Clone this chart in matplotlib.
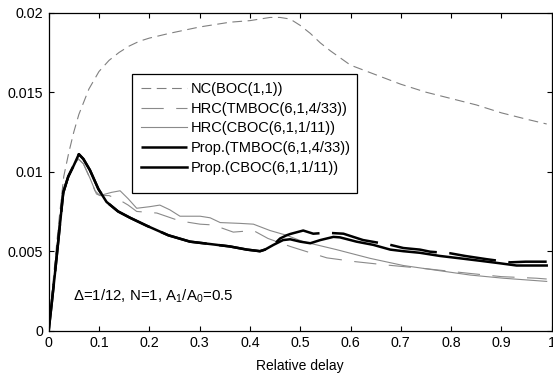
import matplotlib
matplotlib.use("Agg")
import matplotlib.pyplot as plt
from matplotlib.patches import Rectangle

plt.rcParams['font.family'] = ['Liberation Sans', 'DejaVu Sans']
plt.rcParams['mathtext.fontset'] = 'custom'
plt.rcParams['mathtext.rm'] = 'Liberation Sans'
plt.rcParams['mathtext.it'] = 'Liberation Sans:italic'
plt.rcParams['mathtext.bf'] = 'Liberation Sans:bold'
plt.rcParams['lines.scale_dashes'] = False

# ---- data ----
nc_x = [0, 0.01, 0.02, 0.03, 0.04, 0.05, 0.06, 0.08, 0.1, 0.12, 0.14, 0.16, 0.18, 0.2,
        0.24, 0.3, 0.36, 0.4, 0.44, 0.46, 0.48, 0.5, 0.52, 0.54, 0.56, 0.6, 0.65, 0.7,
        0.75, 0.8, 0.85, 0.9, 0.95, 0.99]
nc_y = [0, 0.0035, 0.0068, 0.0097, 0.0112, 0.0125, 0.0136, 0.0152, 0.0163, 0.0170, 0.0175,
        0.0179, 0.0182, 0.0184, 0.0187, 0.0191, 0.0194, 0.0195, 0.0197, 0.0197, 0.0196,
        0.0192, 0.0187, 0.0181, 0.0176, 0.0167, 0.0161, 0.0155, 0.0150, 0.0146, 0.0142,
        0.0137, 0.0133, 0.0130]

hrc_tm_x = [0, 0.0125, 0.0225, 0.029, 0.039, 0.05, 0.059, 0.069, 0.082, 0.092, 0.102, 0.12,
            0.142, 0.158, 0.175, 0.215, 0.261, 0.301, 0.327, 0.367, 0.407, 0.436, 0.48, 0.5,
            0.553, 0.61, 0.672, 0.75, 0.838, 0.9, 0.97, 0.99]
hrc_tm_y = [0, 0.0035, 0.0066, 0.0085, 0.0096, 0.0104, 0.0108, 0.0105, 0.0096, 0.0088, 0.0085,
            0.0085, 0.0082, 0.0079, 0.0075, 0.0074, 0.0069, 0.0067, 0.00665, 0.0062, 0.0063,
            0.0058, 0.0053, 0.0051, 0.00458, 0.00434, 0.00413, 0.0039, 0.0036, 0.0034, 0.0033,
            0.00325]

hrc_cb_x = [0, 0.0125, 0.0225, 0.029, 0.039, 0.05, 0.059, 0.069, 0.082, 0.095, 0.102, 0.125,
            0.142, 0.158, 0.175, 0.201, 0.221, 0.241, 0.261, 0.301, 0.321, 0.341, 0.38, 0.407,
            0.44, 0.473, 0.506, 0.572, 0.639, 0.705, 0.771, 0.838, 0.904, 0.99]
hrc_cb_y = [0, 0.0035, 0.0066, 0.0085, 0.0096, 0.0104, 0.0108, 0.0105, 0.0096, 0.0086, 0.0085,
            0.0087, 0.0088, 0.0083, 0.0077, 0.0078, 0.0079, 0.0076, 0.0072, 0.0072, 0.0071,
            0.0068, 0.00675, 0.0067, 0.0063, 0.0060, 0.0056, 0.0051, 0.00455, 0.0041, 0.0038,
            0.0035, 0.0033, 0.0031]

prop_tm_x = [0, 0.006, 0.0125, 0.0225, 0.029, 0.039, 0.05, 0.06, 0.069, 0.082, 0.099, 0.115,
             0.138, 0.162, 0.195, 0.238, 0.281, 0.321, 0.36, 0.394, 0.42, 0.43, 0.447, 0.46,
             0.473, 0.48, 0.506, 0.526, 0.553, 0.586, 0.625, 0.679, 0.705, 0.738, 0.758, 0.798,
             0.828, 0.87, 0.917, 0.948, 0.99]
prop_tm_y = [0, 0.0017, 0.0036, 0.0067, 0.0087, 0.0097, 0.0104, 0.0111, 0.0108, 0.0101, 0.0089,
             0.0081, 0.0075, 0.0071, 0.0066, 0.0060, 0.0056, 0.00545, 0.0053, 0.0051, 0.0050,
             0.0051, 0.0054, 0.0058, 0.0060, 0.00608, 0.0063, 0.0061, 0.00616, 0.0061, 0.0057,
             0.0054, 0.0052, 0.0051, 0.00497, 0.00487, 0.0047, 0.0045, 0.0043, 0.00434, 0.00434]

prop_cb_x = [0, 0.006, 0.0125, 0.0225, 0.029, 0.039, 0.05, 0.06, 0.069, 0.082, 0.099, 0.115,
             0.138, 0.162, 0.195, 0.238, 0.281, 0.321, 0.36, 0.394, 0.42, 0.43, 0.447, 0.466,
             0.48, 0.5, 0.52, 0.54, 0.566, 0.579, 0.612, 0.645, 0.679, 0.705, 0.738, 0.778,
             0.818, 0.857, 0.897, 0.93, 0.99]
prop_cb_y = [0, 0.0017, 0.0036, 0.0067, 0.0087, 0.0097, 0.0104, 0.0111, 0.0108, 0.0101, 0.0089,
             0.0081, 0.0075, 0.0071, 0.0066, 0.0060, 0.0056, 0.00545, 0.0053, 0.0051, 0.0050,
             0.0051, 0.0054, 0.0057, 0.00575, 0.0056, 0.0055, 0.0057, 0.0059, 0.00587, 0.0056,
             0.0054, 0.0051, 0.0050, 0.0049, 0.0047, 0.00455, 0.0044, 0.00424, 0.0041, 0.0041]

labels = ['NC(BOC(1,1))', 'HRC(TMBOC(6,1,4/33))', 'HRC(CBOC(6,1,1/11))',
          'Prop.(TMBOC(6,1,4/33))', 'Prop.(CBOC(6,1,1/11))']
x_ticks = [0, 0.1, 0.2, 0.3, 0.4, 0.5, 0.6, 0.7, 0.8, 0.9, 1]
x_tick_labels = ['0', '0.1', '0.2', '0.3', '0.4', '0.5', '0.6', '0.7', '0.8', '0.9', '1']
y_ticks = [0, 0.005, 0.01, 0.015, 0.02]
y_tick_labels = ['0', '0.005', '0.01', '0.015', '0.02']
annotation = 'Δ=1/12, N=1, A$_1$/A$_0$=0.5'
xlabel = 'Relative delay'

fig = plt.figure(figsize=(5.53, 3.73), dpi=100)
ax = fig.add_axes([0.088, 0.1134, 0.9097, 0.8526])

ax.plot(nc_x, nc_y, color='#808080', lw=0.8, dashes=(7, 4), label=labels[0])
ax.plot(hrc_tm_x, hrc_tm_y, color='#8a8a8a', lw=0.8, dashes=(16, 9), label=labels[1])
ax.plot(hrc_cb_x, hrc_cb_y, color='#8a8a8a', lw=0.8, label=labels[2])
ax.plot(prop_tm_x, prop_tm_y, color='black', lw=1.8, dashes=(34, 9), label=labels[3])
ax.plot(prop_cb_x, prop_cb_y, color='black', lw=1.8, label=labels[4])

ax.set_xlim(0, 1)
ax.set_ylim(0, 0.02)
ax.set_xticks(x_ticks)
ax.set_xticklabels(x_tick_labels)
ax.set_yticks(y_ticks)
ax.set_yticklabels(y_tick_labels)
ax.tick_params(direction='in', length=3.5, width=0.8, top=True, right=True, labelsize=10.3,
               pad=4)
for s in ax.spines.values():
    s.set_linewidth(0.9)
ax.set_xlabel(xlabel, fontsize=10, labelpad=6)

ax.text(0.048, 0.00214, annotation, fontsize=10.8, va='center', ha='left')

# legend box (frame drawn separately, as in the reference)
box = Rectangle((0.1662, 0.4321), 0.6123 - 0.1662, 0.8072 - 0.4321,
                transform=ax.transAxes, facecolor='white', edgecolor='black',
                lw=0.9, zorder=4)
ax.add_patch(box)
leg = ax.legend(loc='upper left', bbox_to_anchor=(0.183, 0.782), fontsize=10.5,
                frameon=False, handlelength=3.2, handletextpad=0.2, labelspacing=0.39,
                borderpad=0, borderaxespad=0)
leg.set_zorder(5)

fig.savefig('out.png', dpi=100)
